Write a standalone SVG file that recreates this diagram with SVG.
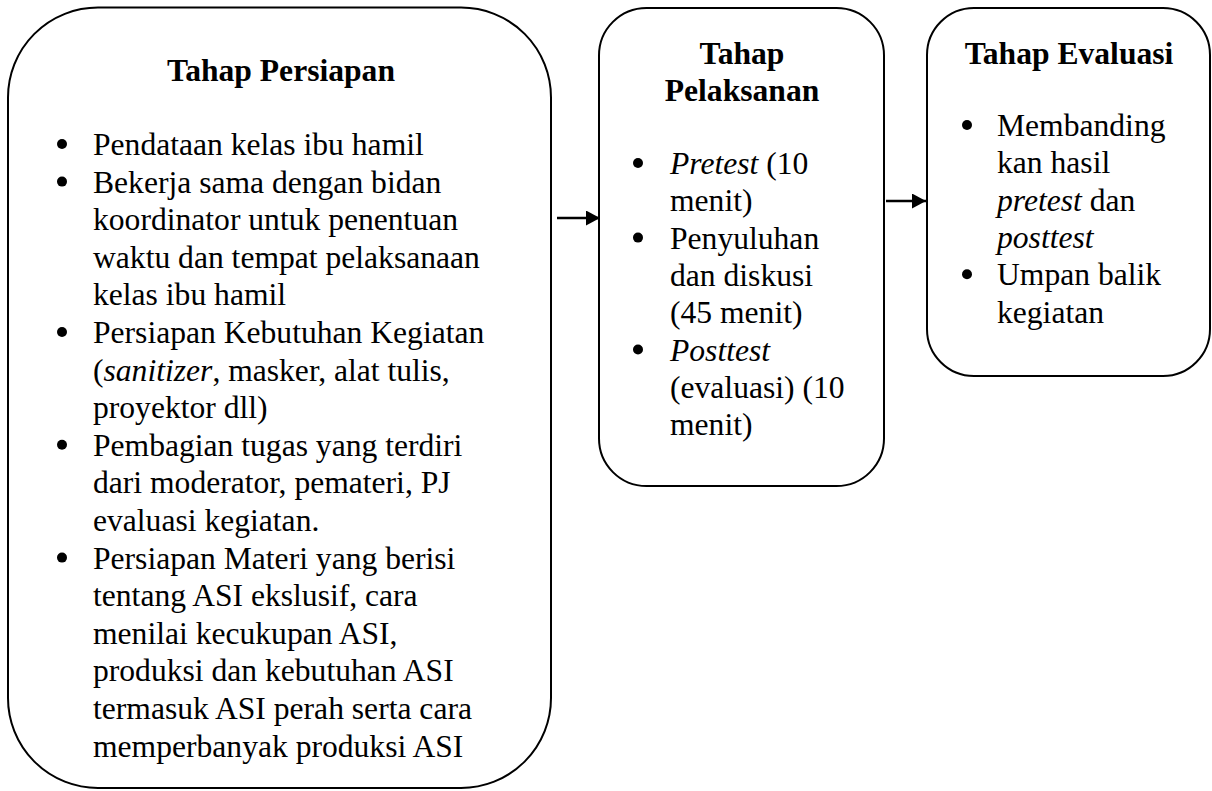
<svg xmlns="http://www.w3.org/2000/svg" width="1212" height="791" viewBox="0 0 1212 791">
<style>
.box{fill:#fff;stroke:#000;stroke-width:2}
text{font-family:'Liberation Serif',Tinos,'Times New Roman',Times,'DejaVu Serif',serif;font-size:31.6px;fill:#000}
.h{font-weight:bold;text-anchor:middle}
.i{font-style:italic}
.c{stroke:#000;stroke-width:2.5;fill:none}
.dot{fill:#000}
</style>
<defs>
<marker id="ah" markerWidth="14" markerHeight="15" refX="14" refY="7.5" orient="auto" markerUnits="userSpaceOnUse">
<path d="M0,0 L14,7.5 L0,15 Z" fill="#000"/>
</marker>
</defs>
<rect width="1212" height="791" fill="#fff"/>
<g id="persiapan" font-family="Liberation Serif, serif">
<rect class="box" x="8" y="7.5" width="543" height="780.5" rx="90" ry="90"/>
<text class="h" x="281" y="81">Tahap Persiapan</text>
<circle class="dot" cx="62" cy="144" r="5"/>
<circle class="dot" cx="62" cy="181.6" r="5"/>
<circle class="dot" cx="62" cy="332" r="5"/>
<circle class="dot" cx="62" cy="444.8" r="5"/>
<circle class="dot" cx="62" cy="557.6" r="5"/>
<text x="93" y="155">Pendataan kelas ibu hamil</text>
<text x="93" y="192.6">Bekerja sama dengan bidan</text>
<text x="93" y="230.2">koordinator untuk penentuan</text>
<text x="93" y="267.8">waktu dan tempat pelaksanaan</text>
<text x="93" y="305.4">kelas ibu hamil</text>
<text x="93" y="343">Persiapan Kebutuhan Kegiatan</text>
<text x="93" y="380.6">(<tspan class="i">sanitizer</tspan>, masker, alat tulis,</text>
<text x="93" y="418.2">proyektor dll)</text>
<text x="93" y="455.8">Pembagian tugas yang terdiri</text>
<text x="93" y="493.4">dari moderator, pemateri, PJ</text>
<text x="93" y="531">evaluasi kegiatan.</text>
<text x="93" y="568.6">Persiapan Materi yang berisi</text>
<text x="93" y="606.2">tentang ASI ekslusif, cara</text>
<text x="93" y="643.8">menilai kecukupan ASI,</text>
<text x="93" y="681.4">produksi dan kebutuhan ASI</text>
<text x="93" y="719">termasuk ASI perah serta cara</text>
<text x="93" y="756.6">memperbanyak produksi ASI</text>
</g>
<g id="pelaksanan">
<rect class="box" x="599" y="8" width="285" height="478" rx="47.5" ry="47.5"/>
<text class="h" x="742" y="64">Tahap</text>
<text class="h" x="742" y="101">Pelaksanan</text>
<circle class="dot" cx="638" cy="163" r="5"/>
<circle class="dot" cx="638" cy="237.6" r="5"/>
<circle class="dot" cx="638" cy="349.5" r="5"/>
<text x="670" y="174"><tspan class="i">Pretest</tspan> (10</text>
<text x="670" y="211.3">menit)</text>
<text x="670" y="248.6">Penyuluhan</text>
<text x="670" y="285.9">dan diskusi</text>
<text x="670" y="323.2">(45 menit)</text>
<text x="670" y="360.5"><tspan class="i">Posttest</tspan></text>
<text x="670" y="397.8">(evaluasi) (10</text>
<text x="670" y="435.1">menit)</text>
</g>
<g id="evaluasi">
<rect class="box" x="927" y="8" width="283" height="368" rx="47" ry="47"/>
<text class="h" x="1069" y="64">Tahap Evaluasi</text>
<circle class="dot" cx="967" cy="125" r="5"/>
<circle class="dot" cx="967" cy="274.2" r="5"/>
<text x="997" y="136">Membanding</text>
<text x="997" y="173.3">kan hasil</text>
<text x="997" y="210.6"><tspan class="i">pretest</tspan> dan</text>
<text x="997" y="247.9"><tspan class="i">posttest</tspan></text>
<text x="997" y="285.2">Umpan balik</text>
<text x="997" y="322.5">kegiatan</text>
</g>
<g id="connectors">
<line class="c" x1="557" y1="218" x2="600" y2="218" marker-end="url(#ah)"/>
<line class="c" x1="886" y1="201" x2="926" y2="201" marker-end="url(#ah)"/>
</g>
</svg>
